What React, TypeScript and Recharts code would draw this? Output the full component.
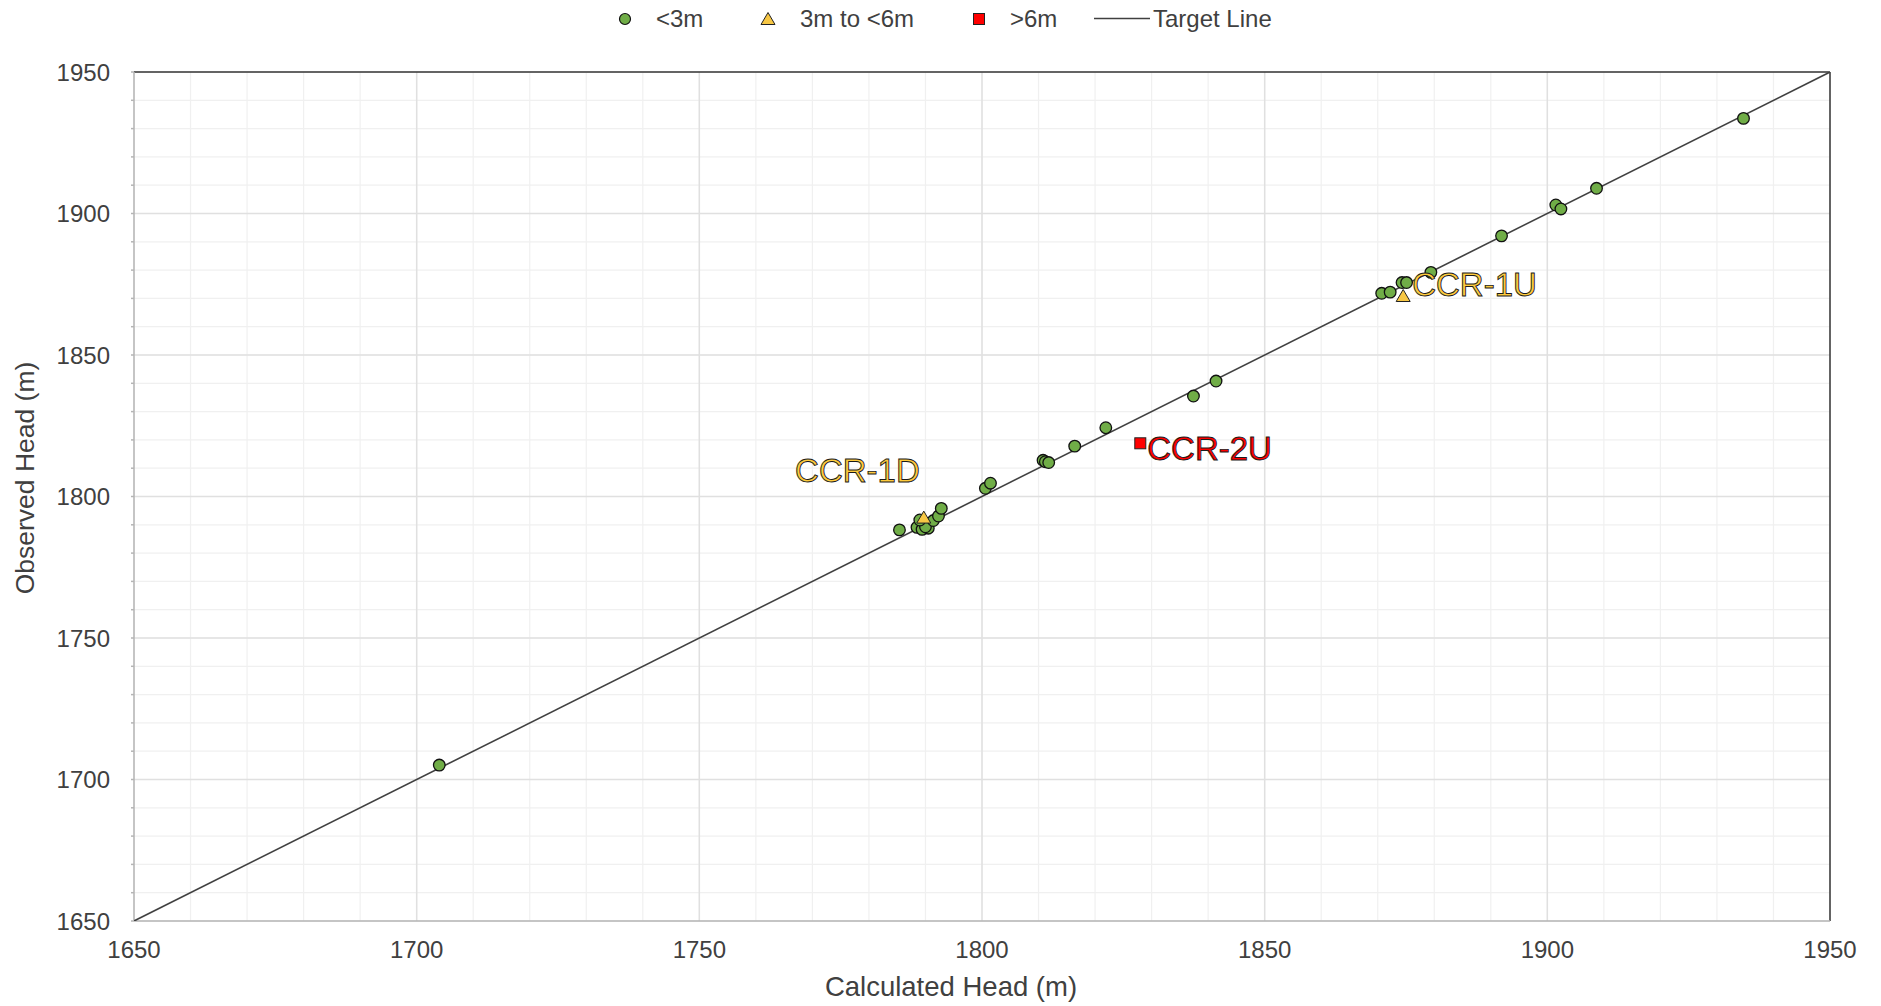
import React from 'react';
import { ScatterChart, Scatter, XAxis, YAxis, ReferenceLine, CartesianGrid } from 'recharts';

const FONT = '"Liberation Sans", Arial, Helvetica, sans-serif';

// ---- data ----
const axisMin = 1650;
const axisMax = 1950;
const majorTicks = [1650, 1700, 1750, 1800, 1850, 1900, 1950];

const under3mCalculated = [
  1704.0, 1785.4, 1788.5, 1789.4, 1790.5, 1790.0, 1791.4, 1792.3, 1792.8, 1789.0,
  1800.6, 1801.5, 1810.8, 1811.2, 1811.8, 1816.4, 1821.9, 1837.4, 1841.4,
  1870.7, 1872.2, 1874.3, 1875.1, 1879.4, 1891.9, 1901.5, 1902.4, 1908.7, 1934.7,
];
const under3mObserved = [
  1705.1, 1788.2, 1789.1, 1788.4, 1788.8, 1789.3, 1791.5, 1793.1, 1795.8, 1791.7,
  1802.9, 1804.7, 1812.8, 1812.3, 1812.0, 1817.8, 1824.3, 1835.5, 1840.8,
  1871.8, 1872.2, 1875.6, 1875.6, 1879.2, 1892.1, 1903.0, 1901.6, 1908.9, 1933.6,
];

const mid3to6Names = ['CCR-1D', 'CCR-1U'];
const mid3to6Calculated = [1789.7, 1874.5];
const mid3to6Observed = [1792.3, 1870.6];

const over6Names = ['CCR-2U'];
const over6Calculated = [1828.0];
const over6Observed = [1818.8];

const targetLine = [axisMin, axisMax];

const legendLabels = ['<3m', '3m to <6m', '>6m', 'Target Line'];

// ---- derived tables ----
const gridTicks: number[] = [];
for (let v = axisMin; v <= axisMax; v += 10) gridTicks.push(v);

const under3mData = under3mCalculated.map((x, i) => ({ x, y: under3mObserved[i] }));
const mid3to6Data = mid3to6Calculated.map((x, i) => ({ x, y: mid3to6Observed[i], name: mid3to6Names[i] }));
const over6Data = over6Calculated.map((x, i) => ({ x, y: over6Observed[i], name: over6Names[i] }));
const targetData = targetLine.map((v) => ({ x: v, y: v }));

// ---- styles ----
const GREEN = '#70AD47';
const GOLD = '#F7C744';
const LABEL_GOLD = '#FFCB3D';
const RED = '#FF0000';
const TEXT = '#404040';

const labelPlacement: Record<string, { dx: number; dy: number; anchor: 'start' | 'end' }> = {
  'CCR-1D': { dx: -4, dy: -36, anchor: 'end' },
  'CCR-1U': { dx: 9, dy: -1, anchor: 'start' },
  'CCR-2U': { dx: 7, dy: 17, anchor: 'start' },
};

const PointLabel = ({ cx, cy, name, fill }: any) => {
  const p = labelPlacement[name];
  if (!p) return null;
  return (
    <text
      x={cx + p.dx}
      y={cy + p.dy}
      textAnchor={p.anchor}
      fontFamily={FONT}
      fontSize={33}
      fill={fill}
      stroke="#1a1a1a"
      strokeWidth={0.9}
    >
      {name}
    </text>
  );
};

const CircleShape = (props: any) => {
  const { cx, cy } = props;
  return <circle cx={cx} cy={cy} r={5.8} fill={GREEN} stroke="#111" strokeWidth={1.3} />;
};

const TriangleShape = (props: any) => {
  const { cx, cy, payload } = props;
  const h = 12;
  const w = 7;
  const pts = `${cx},${cy - h * 0.6} ${cx + w},${cy + h * 0.4} ${cx - w},${cy + h * 0.4}`;
  return (
    <g>
      <polygon points={pts} fill={GOLD} stroke="#222" strokeWidth={1} />
      <PointLabel cx={cx} cy={cy} name={payload?.name} fill={LABEL_GOLD} />
    </g>
  );
};

const SquareShape = (props: any) => {
  const { cx, cy, payload } = props;
  const s = 11;
  return (
    <g>
      <rect x={cx - s / 2} y={cy - s / 2} width={s} height={s} fill={RED} stroke="#222" strokeWidth={1} />
      <PointLabel cx={cx} cy={cy} name={payload?.name} fill={RED} />
    </g>
  );
};

const NoShape = () => <g />;

const XTick = (props: any) => {
  const { x, y, payload } = props;
  if (!majorTicks.includes(payload.value)) return <g />;
  return (
    <text x={x} y={y + 17} textAnchor="middle" fontFamily={FONT} fontSize={24} fill={TEXT}>
      {payload.value}
    </text>
  );
};

const YTick = (props: any) => {
  const { x, y, payload } = props;
  if (!majorTicks.includes(payload.value)) return <g />;
  return (
    <text x={x} y={y + 8.5} textAnchor="end" fontFamily={FONT} fontSize={24} fill={TEXT}>
      {payload.value}
    </text>
  );
};

const XTitle = () => (
  <text x={951} y={996} textAnchor="middle" fontFamily={FONT} fontSize={27.5} fill={TEXT}>
    Calculated Head (m)
  </text>
);

const YTitle = () => (
  <text
    x={24}
    y={478}
    dy={9.5}
    transform="rotate(-90 24 478)"
    textAnchor="middle"
    fontFamily={FONT}
    fontSize={26.5}
    fill={TEXT}
  >
    Observed Head (m)
  </text>
);

const LegendOverlay = () => (
  <svg width={1881} height={40} style={{ position: 'absolute', left: 0, top: 0 }}>
    <g fontFamily={FONT} fontSize={24} fill={TEXT}>
      <circle cx={625} cy={19} r={5.5} fill={GREEN} stroke="#111" strokeWidth={1.2} />
      <text x={656} y={27}>{legendLabels[0]}</text>
      <polygon points="768,12.5 775,24.5 761,24.5" fill={GOLD} stroke="#222" strokeWidth={1} />
      <text x={800} y={27}>{legendLabels[1]}</text>
      <rect x={973.5} y={13.5} width={11} height={11} fill={RED} stroke="#222" strokeWidth={1} />
      <text x={1010} y={27}>{legendLabels[2]}</text>
      <line x1={1094} y1={18.5} x2={1150} y2={18.5} stroke="#404040" strokeWidth={1.5} />
      <text x={1153} y={27}>{legendLabels[3]}</text>
    </g>
  </svg>
);

export default function App() {
  const innerMajors = majorTicks.filter((v) => v !== axisMin && v !== axisMax);
  return (
    <div style={{ position: 'absolute', left: 0, top: 0, width: 1881, height: 1006, background: '#fff' }}>
      <ScatterChart width={1881} height={1006} margin={{ top: 72, right: 51, bottom: 0, left: 0 }}>
        <CartesianGrid stroke="#f0f0f0" strokeWidth={1.2} />
        <XAxis
          type="number"
          dataKey="x"
          domain={[axisMin, axisMax]}
          ticks={gridTicks}
          interval={0}
          allowDataOverflow
          tick={XTick}
          tickSize={0}
          tickMargin={20}
          height={85}
          stroke="#b5b5b5"
          strokeWidth={1.5}
          label={{ content: XTitle }}
        />
        <YAxis
          type="number"
          dataKey="y"
          domain={[axisMin, axisMax]}
          ticks={gridTicks}
          interval={0}
          allowDataOverflow
          tick={YTick}
          tickSize={3}
          tickMargin={21}
          width={134}
          stroke="#b5b5b5"
          strokeWidth={1.5}
          label={{ content: YTitle }}
        />
        {innerMajors.map((v) => (
          <ReferenceLine key={`vx${v}`} x={v} stroke="#e0e0e0" strokeWidth={1.5} />
        ))}
        {innerMajors.map((v) => (
          <ReferenceLine key={`hy${v}`} y={v} stroke="#e0e0e0" strokeWidth={1.5} />
        ))}
        <ReferenceLine y={axisMax} stroke="#333" strokeWidth={1.5} />
        <ReferenceLine x={axisMax} stroke="#333" strokeWidth={1.5} />
        <Scatter
          name="Target Line"
          data={targetData}
          line={{ stroke: '#404040', strokeWidth: 1.6 }}
          shape={NoShape}
          isAnimationActive={false}
        />
        <Scatter name="<3m" data={under3mData} shape={CircleShape} isAnimationActive={false} />
        <Scatter name="3m to <6m" data={mid3to6Data} shape={TriangleShape} isAnimationActive={false} />
        <Scatter name=">6m" data={over6Data} shape={SquareShape} isAnimationActive={false} />
      </ScatterChart>
      <LegendOverlay />
    </div>
  );
}
